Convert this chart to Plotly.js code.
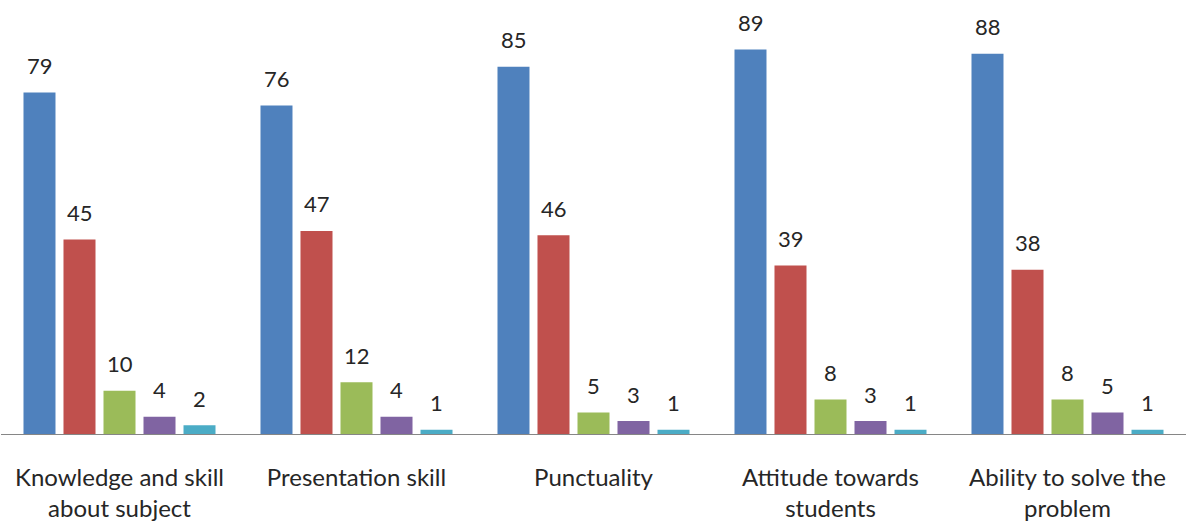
<!DOCTYPE html>
<html>
<head>
<meta charset="utf-8">
<script src="https://cdn.plot.ly/plotly-3.0.1.min.js"></script>
<style>html,body{margin:0;padding:0;background:#fff;}#chart{width:1186px;height:523px;}</style>
</head>
<body>
<div id="chart"></div>
<script>
const categories = ["Knowledge and skill<br>about subject", "Presentation skill", "Punctuality", "Attitude towards<br>students", "Ability to solve the<br>problem"];
const series1 = [79, 76, 85, 89, 88];
const series2 = [45, 47, 46, 39, 38];
const series3 = [10, 12, 5, 8, 8];
const series4 = [4, 4, 3, 3, 5];
const series5 = [2, 1, 1, 1, 1];
const seriesValues = [series1, series2, series3, series4, series5];
const seriesNames = ["Series 1", "Series 2", "Series 3", "Series 4", "Series 5"];
const colors = ["#4F81BD", "#C0504D", "#9BBB59", "#8064A2", "#4BACC6"];

const font = "Lato, 'Open Sans', sans-serif";
const traces = seriesValues.map((vals, i) => ({
  type: "bar",
  name: seriesNames[i],
  x: categories,
  y: vals,
  marker: {color: colors[i]},
  hoverinfo: "x+y"
}));

// data labels: one per bar, offset horizontally by the bar slot width (40px)
const annotations = [];
seriesValues.forEach((vals, i) => {
  vals.forEach((v, j) => {
    annotations.push({
      x: categories[j], y: v, xref: "x", yref: "y",
      text: String(v), showarrow: false,
      xshift: (i - 2) * 40, yshift: 27,
      xanchor: "center", yanchor: "middle",
      font: {family: font, size: 22, color: "#262626"}
    });
  });
});

const layout = {
  width: 1186, height: 523,
  margin: {l: 1, r: 0, t: 20, b: 89},
  paper_bgcolor: "#fff", plot_bgcolor: "#fff",
  showlegend: false,
  barmode: "group",
  bargap: 0.156,
  bargroupgap: 0.2,
  annotations: annotations,
  xaxis: {
    showline: true, linecolor: "#868686", linewidth: 1,
    ticks: "", showgrid: false, zeroline: false,
    tickfont: {family: font, size: 24, color: "#262626"},
    ticklabelstandoff: 22,
    automargin: false
  },
  yaxis: {
    range: [0, 95.8], visible: false, showgrid: false, zeroline: false, fixedrange: true
  }
};
Plotly.newPlot("chart", traces, layout, {displayModeBar: false, staticPlot: true});
</script>
</body>
</html>
